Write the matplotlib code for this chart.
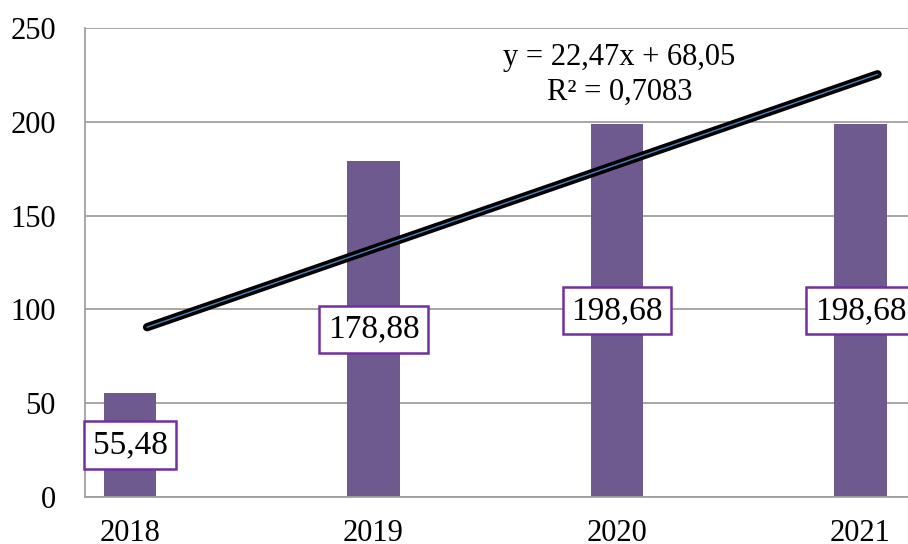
import numpy as np
import matplotlib
matplotlib.use('Agg')
import matplotlib.pyplot as plt

years = ['2018', '2019', '2020', '2021']
values = [55.48, 178.88, 198.68, 198.68]
labels = ['55,48', '178,88', '198,68', '198,68']
slope, intercept = 22.47, 68.05
trend_x = [1, 7]
equation = 'y = 22,47x + 68,05\nR² = 0,7083'

plt.rcParams['font.family'] = ['Liberation Serif', 'DejaVu Serif']

fig = plt.figure(figsize=(9.08, 5.44), dpi=100)
ax = fig.add_axes([0.0936, 0.0864, 0.9064, 0.8621])

pos = np.array([1, 3, 5, 7])
ax.bar(pos, values, width=0.43, color='#6E5A8F', zorder=2)

tx = np.array(trend_x, dtype=float)
ty = slope * tx + intercept
tx_draw = tx + 0.14
ax.plot(tx_draw, ty, color='black', lw=6, solid_capstyle='round', zorder=3)
ax.plot(tx_draw, ty, color='#4F81BD', lw=1, solid_capstyle='round', zorder=4)

for p, v, s in zip(pos, values, labels):
    ax.text(p, v / 2, s, ha='center', va='center', fontsize=24, zorder=5,
            bbox=dict(boxstyle='square,pad=0.25', fc='white', ec='#7030A0', lw=1.8))

ax.text(5.02, 225, equation, ha='center', va='center', fontsize=22,
        linespacing=1.25, zorder=5)

ax.set_xlim(0.63, 7.39)
ax.set_ylim(0, 250)
ax.set_yticks(np.arange(0, 251, 50))
ax.set_xticks(pos)
ax.set_xticklabels(years)
ax.tick_params(axis='both', length=0, labelsize=22)
ax.tick_params(axis='x', pad=16)
ax.tick_params(axis='y', pad=21)
ax.yaxis.grid(True, color='#A0A0A0', lw=1.3, zorder=0)
ax.set_axisbelow(True)
for side in ['top', 'right']:
    ax.spines[side].set_visible(False)
for side in ['left', 'bottom']:
    ax.spines[side].set_color('#A0A0A0')
    ax.spines[side].set_linewidth(1.3)

fig.savefig('out.png', dpi=100)
